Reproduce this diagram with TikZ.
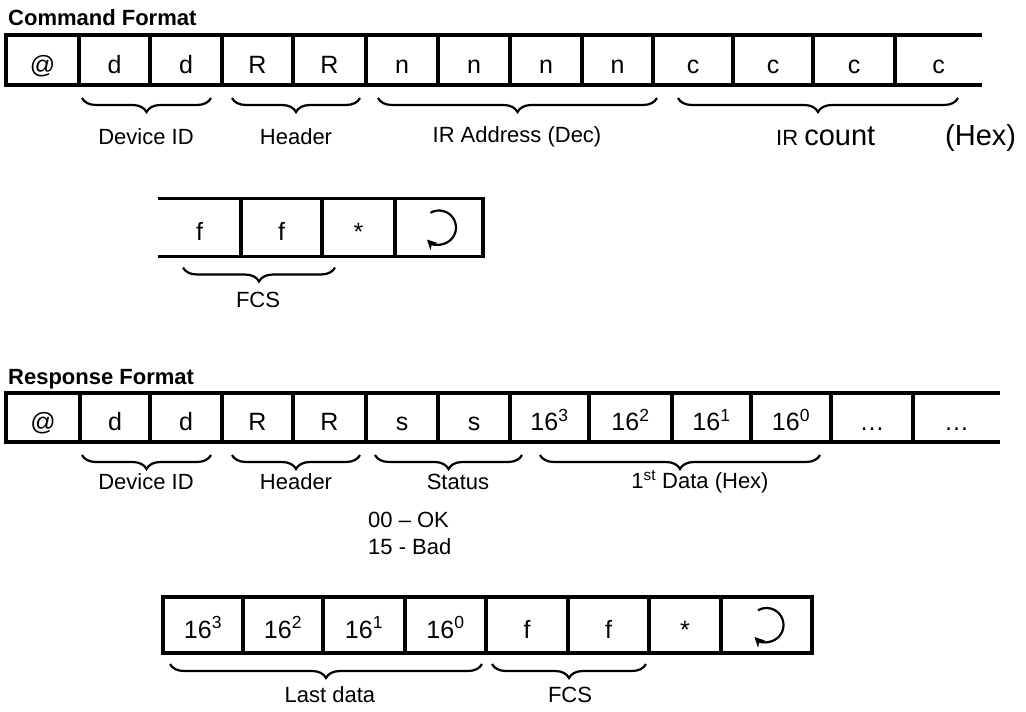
\documentclass[tikz,border=0pt]{standalone}
\usepackage{fontspec}
\setmainfont{Liberation Sans}
\usetikzlibrary{decorations.pathreplacing,arrows.meta}

\tikzset{
  cell/.style={draw, line width=3.5pt, inner sep=0pt, outer sep=0pt, text height=26pt, text depth=0pt, font=\fontsize{25}{30}\selectfont},
  frame/.style={line width=3.5pt},
  field/.style={inner sep=0pt, font=\fontsize{22}{26}\selectfont},
  heading/.style={anchor=west, inner sep=0pt, font=\fontsize{22}{26}\selectfont\bfseries},
  underbrace/.style={decorate, decoration={brace, mirror, amplitude=14pt}, line width=2.2pt},
  crarrow/.style={line width=2.2pt, -{Stealth[length=10pt,width=10pt]}}
}

\begin{document}
\begin{tikzpicture}[x=1pt, y=-1pt]
\useasboundingbox (0,0) rectangle (1026,712);

% command format
\node[heading] (cmdtitle) at (8,18) {Command Format};
\foreach \l/\r/\t [count=\i] in {6/79/@,79/150/d,150/222/d,222/293/R,293/366/R,366/438/n,438/510/n,510/582/n,582/653/n,653/733/c,733/813/c,813/895/c}
  \node[cell, minimum width=\r-\l, minimum height=50] (cmd\i) at ({(\l+\r)/2},60) {\t};
\node[cell, draw=none, minimum width=87, minimum height=50] (cmd13) at (938.5,60) {c};
\draw[frame] (cmd12.north east) -- (cmd13.north east) (cmd12.south east) -- (cmd13.south east);

\draw[underbrace] ([xshift=3pt,yshift=-13pt]cmd2.south west) -- ([xshift=-11pt,yshift=-13pt]cmd3.south east);
\draw[underbrace] ([xshift=10pt,yshift=-13pt]cmd4.south west) -- ([xshift=-6pt,yshift=-13pt]cmd5.south east);
\draw[underbrace] ([xshift=12pt,yshift=-13pt]cmd6.south west) -- ([xshift=4pt,yshift=-13pt]cmd9.south east);
\draw[underbrace] ([xshift=25pt,yshift=-13pt]cmd10.south west) -- ([xshift=-24pt,yshift=-13pt]cmd13.south east);
\node[field] (cmdid) at (146,137) {Device ID};
\node[field] (cmdhdr) at (296,137) {Header};
\node[field] (cmdaddr) at (517,137) {IR Address (Dec)};
\node[field, anchor=base west] (cmdcount) at (776,145) {IR {\fontsize{29}{31}\selectfont count\hspace{70pt}(Hex)}};

\node[cell, draw=none, minimum width=83, minimum height=58] (cmdend1) at (199.5,227.5) {f};
\foreach \l/\r/\t [count=\i from 2] in {241/322/f,322/395/{*},395/483/{}}
  \node[cell, minimum width=\r-\l, minimum height=58] (cmdend\i) at ({(\l+\r)/2},227.5) {\t};
\draw[frame] (cmdend1.north west) -- (cmdend2.north west) (cmdend1.south west) -- (cmdend2.south west);
\draw[crarrow] ([shift={(-120:17)}]cmdend4.center) arc[start angle=-120, end angle=135, radius=17];
\draw[underbrace] ([xshift=25pt,yshift=-11pt]cmdend1.south west) -- ([xshift=13pt,yshift=-11pt]cmdend2.south east);
\node[field] (cmdfcs) at (258,300) {FCS};

% response format
\node[heading] (resptitle) at (8,379) {Response Format};
\foreach \l/\r/\t [count=\i] in {6/80/@,80/150/d,150/222/d,222/293/R,293/366/R,366/438/s,438/510/s,510/589/{16\textsuperscript{3}},589/672/{16\textsuperscript{2}},672/751/{16\textsuperscript{1}},751/831/{16\textsuperscript{0}},831/913/{\ldots}}
  \node[cell, minimum width=\r-\l, minimum height=49] (resp\i) at ({(\l+\r)/2},417.5) {\t};
\node[cell, draw=none, minimum width=87, minimum height=49] (resp13) at (956.5,417.5) {\ldots};
\draw[frame] (resp12.north east) -- (resp13.north east) (resp12.south east) -- (resp13.south east);

\draw[underbrace] ([xshift=2pt,yshift=-13pt]resp2.south west) -- ([xshift=-11pt,yshift=-13pt]resp3.south east);
\draw[underbrace] ([xshift=10pt,yshift=-13pt]resp4.south west) -- ([xshift=-6pt,yshift=-13pt]resp5.south east);
\draw[underbrace] ([xshift=9pt,yshift=-13pt]resp6.south west) -- ([xshift=12pt,yshift=-13pt]resp7.south east);
\draw[underbrace] ([xshift=30pt,yshift=-13pt]resp8.south west) -- ([xshift=-11pt,yshift=-13pt]resp11.south east);
\node[field] (respid) at (146,482) {Device ID};
\node[field] (resphdr) at (296,482) {Header};
\node[field] (respstat) at (458,482) {Status};
\node[field, anchor=west] (respok) at (368,520) {00 -- OK};
\node[field, anchor=west] (respbad) at (368,547) {15 - Bad};
\node[field] (respfirst) at (700,482) {1\textsuperscript{st} Data (Hex)};

\foreach \l/\r/\t [count=\i] in {163/243/{16\textsuperscript{3}},243/323/{16\textsuperscript{2}},323/405/{16\textsuperscript{1}},405/486/{16\textsuperscript{0}},486/568/f,568/649/f,649/721/{*},721/812/{}}
  \node[cell, minimum width=\r-\l, minimum height=56] (respend\i) at ({(\l+\r)/2},625) {\t};
\draw[crarrow] ([shift={(-120:17)}]respend8.center) arc[start angle=-120, end angle=135, radius=17];
\draw[underbrace] ([xshift=7pt,yshift=-11pt]respend1.south west) -- ([xshift=-4pt,yshift=-11pt]respend4.south east);
\draw[underbrace] ([xshift=6pt,yshift=-11pt]respend5.south west) -- ([xshift=-3pt,yshift=-11pt]respend6.south east);
\node[field] (resplast) at (330,695) {Last data};
\node[field] (respfcs) at (570,695) {FCS};
\end{tikzpicture}
\end{document}
